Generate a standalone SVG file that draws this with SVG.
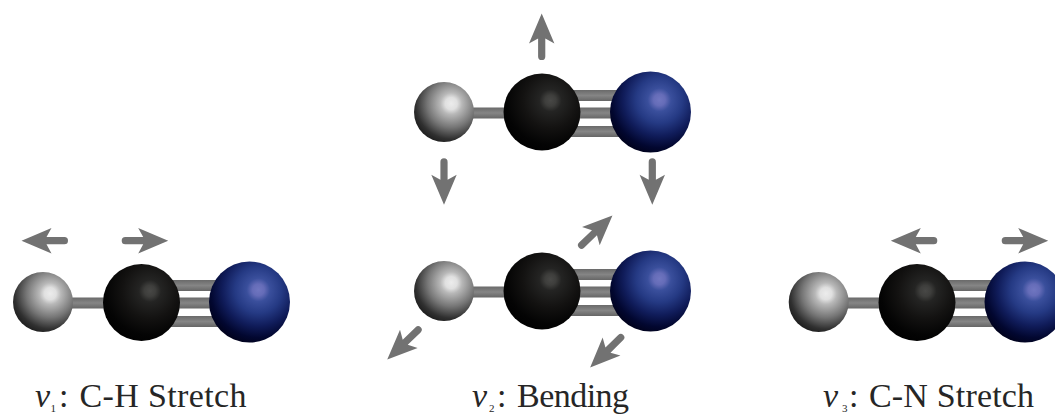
<svg xmlns="http://www.w3.org/2000/svg" width="1055" height="414" viewBox="0 0 1055 414">
<style>
.h{fill:url(#gh)}.c{fill:url(#gc)}.n{fill:url(#gn)}
.b{fill:url(#gb)}
.a{fill:#727272}
text{font-family:"Liberation Serif","Times New Roman",serif;font-size:34px;fill:#262626}
.v{font-style:italic}
.s{font-size:11px}
</style>
<defs>
<linearGradient id="gb" x1="0" y1="0" x2="0" y2="1"><stop offset="0" stop-color="#6a6a6a"/><stop offset=".5" stop-color="#858585"/><stop offset="1" stop-color="#666"/></linearGradient>
<radialGradient id="gh" cx=".62" cy=".36" r=".72" fx=".62" fy=".36"><stop offset="0" stop-color="#ececec"/><stop offset=".14" stop-color="#e0e0e0"/><stop offset=".25" stop-color="#b8b8b8"/><stop offset=".55" stop-color="#767676"/><stop offset=".82" stop-color="#303030"/><stop offset="1" stop-color="#181818"/></radialGradient>
<radialGradient id="gc" cx=".61" cy=".35" r=".72" fx=".61" fy=".35"><stop offset="0" stop-color="#484846"/><stop offset=".1" stop-color="#3e3e3c"/><stop offset=".2" stop-color="#242423"/><stop offset=".5" stop-color="#131211"/><stop offset=".8" stop-color="#040404"/><stop offset="1" stop-color="#000"/></radialGradient>
<radialGradient id="gn" cx=".61" cy=".35" r=".72" fx=".61" fy=".35"><stop offset="0" stop-color="#7076c0"/><stop offset=".1" stop-color="#656cb8"/><stop offset=".2" stop-color="#3a4f9c"/><stop offset=".4" stop-color="#253a84"/><stop offset=".62" stop-color="#101c5a"/><stop offset=".82" stop-color="#020730"/><stop offset="1" stop-color="#000015"/></radialGradient>
<path id="arrow" class="a" d="M3.6-3.6H21.5L16.5-12.7 46.5 0 16.5 12.7 21.5 3.6H3.6A3.6 3.6 0 0 1 3.6-3.6Z"/>
</defs>
<g id="connectors">
<rect class="b" x="43" y="297.5" width="98" height="11"/><rect class="b" x="141" y="280" width="108" height="11"/><rect class="b" x="141" y="297.5" width="108" height="11"/><rect class="b" x="141" y="316" width="108" height="11"/>
<rect class="b" x="444" y="107.5" width="98" height="11"/><rect class="b" x="542" y="90" width="108" height="11"/><rect class="b" x="542" y="107.5" width="108" height="11"/><rect class="b" x="542" y="126" width="108" height="11"/>
<rect class="b" x="444" y="286.5" width="98" height="11"/><rect class="b" x="542" y="269" width="108" height="11"/><rect class="b" x="542" y="286.5" width="108" height="11"/><rect class="b" x="542" y="305" width="108" height="11"/>
<rect class="b" x="819" y="297.5" width="98" height="11"/><rect class="b" x="917" y="280" width="108" height="11"/><rect class="b" x="917" y="297.5" width="108" height="11"/><rect class="b" x="917" y="316" width="108" height="11"/>
<use href="#arrow" transform="translate(68 240.7) rotate(180)"/>
<use href="#arrow" transform="translate(121.7 240.7)"/>
<use href="#arrow" transform="translate(541.7 60) rotate(-90)"/>
<use href="#arrow" transform="translate(444 158.3) rotate(90)"/>
<use href="#arrow" transform="translate(652.3 158.3) rotate(90)"/>
<use href="#arrow" transform="translate(579 247.7) rotate(-44)"/>
<use href="#arrow" transform="translate(420.7 327.3) rotate(136)"/>
<use href="#arrow" transform="translate(623.3 335) rotate(135.5)"/>
<use href="#arrow" transform="translate(937.3 240.7) rotate(180)"/>
<use href="#arrow" transform="translate(1001.7 240.7)"/>
</g>
<g id="m1-h"><circle class="h" cx="43" cy="302" r="30"/></g>
<g id="m1-c"><circle class="c" cx="141.5" cy="302.5" r="38.5"/></g>
<g id="m1-n"><circle class="n" cx="249.5" cy="302" r="40.5"/></g>
<g id="m2a-h"><circle class="h" cx="444" cy="112" r="30"/></g>
<g id="m2a-c"><circle class="c" cx="542" cy="112" r="38.5"/></g>
<g id="m2a-n"><circle class="n" cx="650.5" cy="112" r="40.5"/></g>
<g id="m2b-h"><circle class="h" cx="444" cy="291" r="30"/></g>
<g id="m2b-c"><circle class="c" cx="542" cy="291" r="38.5"/></g>
<g id="m2b-n"><circle class="n" cx="650.5" cy="291" r="40.5"/></g>
<g id="m3-h"><circle class="h" cx="818.7" cy="302" r="30"/></g>
<g id="m3-c"><circle class="c" cx="917" cy="302.5" r="38.5"/></g>
<g id="m3-n"><circle class="n" cx="1025" cy="302" r="40.5"/></g>
<g id="label-1"><text class="v" x="35" y="406.7">v</text><text class="s" x="50.5" y="412">1</text><text x="59" y="406.7">:</text><text x="79.5" y="406.7" textLength="167" lengthAdjust="spacing">C-H Stretch</text></g>
<g id="label-2"><text class="v" x="472" y="406.7">v</text><text class="s" x="489" y="412">2</text><text x="497" y="406.7">:</text><text x="517" y="406.7" textLength="112" lengthAdjust="spacing">Bending</text></g>
<g id="label-3"><text class="v" x="823" y="406.7">v</text><text class="s" x="842" y="412">3</text><text x="849" y="406.7">:</text><text x="869" y="406.7" textLength="165" lengthAdjust="spacing">C-N Stretch</text></g>
</svg>
